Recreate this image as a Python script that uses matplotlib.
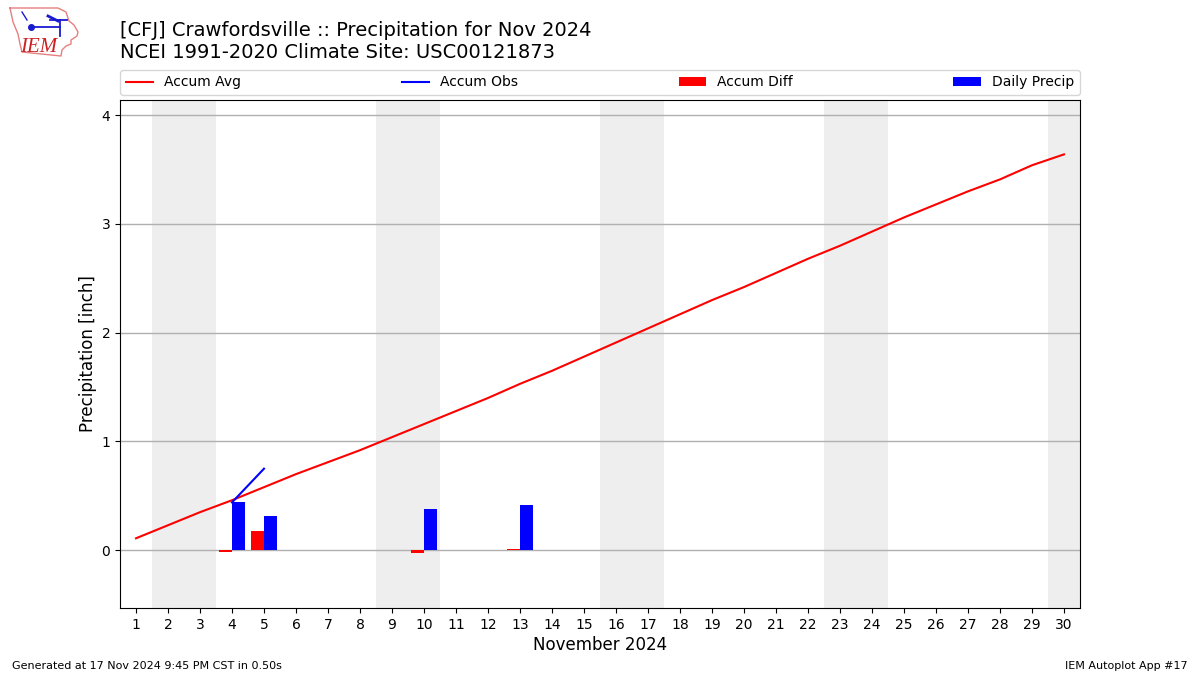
import numpy as np
import matplotlib
matplotlib.use("Agg")
import matplotlib.pyplot as plt
from matplotlib.lines import Line2D

days = list(range(1, 31))
accum_avg = [0.11, 0.23, 0.35, 0.46, 0.58, 0.70, 0.81, 0.92, 1.04, 1.16,
             1.28, 1.40, 1.53, 1.65, 1.78, 1.91, 2.04, 2.17, 2.30, 2.42,
             2.55, 2.68, 2.80, 2.93, 3.06, 3.18, 3.30, 3.41, 3.54, 3.64]
obs_days = [4, 5]
accum_obs = [0.44, 0.75]
bar_days = [4, 5, 10, 13]
accum_diff = [-0.02, 0.18, -0.025, 0.01]
daily_precip = [0.44, 0.315, 0.38, 0.415]
weekends = [(1.5, 3.5), (8.5, 10.5), (15.5, 17.5), (22.5, 24.5), (29.5, 30.5)]
title = "[CFJ] Crawfordsville :: Precipitation for Nov 2024\nNCEI 1991-2020 Climate Site: USC00121873"

fig = plt.figure(figsize=(12, 6.75), dpi=100)
ax = fig.add_axes([120 / 1200, 1 - 608 / 675, 960 / 1200, 508 / 675])

for a, b in weekends:
    ax.axvspan(a, b, color="#eeeeee", lw=0, zorder=0)
ax.grid(axis="y", color="#b0b0b0", lw=1, zorder=1)
ax.set_axisbelow(True)

ax.bar(bar_days, accum_diff, width=-0.4, align="edge", color="red", zorder=2, label="Accum Diff")
ax.bar(bar_days, daily_precip, width=0.4, align="edge", color="blue", zorder=2, label="Daily Precip")
ax.plot(days, accum_avg, color="red", lw=1.5, zorder=3, label="Accum Avg")
ax.plot(obs_days, accum_obs, color="blue", lw=1.5, zorder=3, label="Accum Obs")

ax.set_xlim(0.5, 30.5)
ax.set_ylim(-0.531, 4.14)
ax.set_xticks(days)
ax.set_yticks([0, 1, 2, 3, 4])
ax.tick_params(labelsize=10)
ax.set_xlabel("November 2024", fontsize=12, labelpad=3)
ax.set_ylabel("Precipitation [inch]", fontsize=12, labelpad=3)

h, l = ax.get_legend_handles_labels()
order = [l.index(n) for n in ["Accum Avg", "Accum Obs", "Accum Diff", "Daily Precip"]]
ax.legend([h[i] for i in order], [l[i] for i in order], ncol=4, mode="expand",
          loc="lower left", bbox_to_anchor=(0, 1.0098, 1, 0.05), borderaxespad=0,
          fontsize=10)

fig.text(120 / 1200, 1 - 61.5 / 675, title, fontsize=14, ha="left", va="bottom", linespacing=1.15)
fig.text(12 / 1200, 1 - 671 / 675, "Generated at 17 Nov 2024 9:45 PM CST in 0.50s", fontsize=8, ha="left", va="bottom")
fig.text(1188 / 1200, 1 - 671 / 675, "IEM Autoplot App #17", fontsize=8, ha="right", va="bottom")

# Logo sketch: state outline, weather-station glyph and IEM wordmark
logo = fig.add_axes([0, 1 - 60 / 675, 80 / 1200, 60 / 675])
logo.set_xlim(0, 80)
logo.set_ylim(60, 0)
logo.axis("off")
ox = [10, 58, 66, 69, 74, 78, 77, 71, 71, 66, 62, 61, 22, 20, 18, 13, 10]
oy = [8, 8, 12, 21, 25, 32, 36, 40, 44, 46, 50, 56, 52, 44, 34, 22, 8]
logo.add_line(Line2D(ox, oy, color="#e58080", lw=1))
logo.add_line(Line2D([30, 60], [27, 27], color="#1a1ad0", lw=1.3))
logo.add_line(Line2D([60, 60], [20, 36], color="#1a1ad0", lw=1.3))
logo.add_line(Line2D([50, 67], [20, 20], color="#1a1ad0", lw=1.3))
logo.add_line(Line2D([48, 58], [16, 21], color="#1a1ad0", lw=2))
logo.add_line(Line2D([22, 27], [12, 20], color="#1a1ad0", lw=1))
logo.add_line(Line2D([31], [27], color="#1a1ad0", marker="o", ms=4))
logo.text(20, 52, "IEM", color="#cc2222", fontsize=15, family="Liberation Serif", style="italic", va="baseline")

fig.savefig("out.png", dpi=100)
